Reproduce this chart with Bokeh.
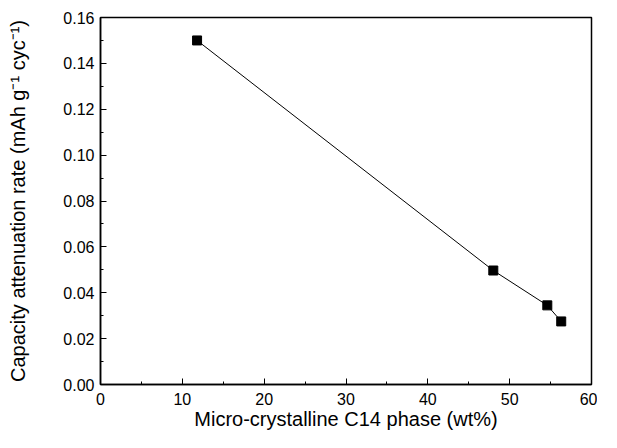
from bokeh.plotting import figure
from bokeh.models import ColumnDataSource, Range1d, FixedTicker, CustomJSTickFormatter
from bokeh.embed import file_html
from bokeh.resources import INLINE

c14_wt = [11.8, 48.0, 54.6, 56.3]
atten_rate = [0.150, 0.0497, 0.0345, 0.0275]
x_ticks = [0, 10, 20, 30, 40, 50, 60]
x_minor = [5, 15, 25, 35, 45, 55]
y_ticks = [0.00, 0.02, 0.04, 0.06, 0.08, 0.10, 0.12, 0.14, 0.16]
y_minor = [0.01, 0.03, 0.05, 0.07, 0.09, 0.11, 0.13, 0.15]

src = ColumnDataSource(dict(x=c14_wt, y=atten_rate))

p = figure(width=597, height=432, output_backend="svg", toolbar_location=None,
           x_range=Range1d(0, 60), y_range=Range1d(0, 0.16),
           min_border_left=100, min_border_right=6, min_border_top=17, min_border_bottom=30)
p.line("x", "y", source=src, line_color="black", line_width=1)
p.scatter("x", "y", source=src, marker="square", size=9, fill_color="black", line_color="black")

p.grid.visible = False
p.outline_line_color = "black"
p.outline_line_width = 1.5
p.background_fill_color = "white"
p.border_fill_color = "white"

font = "Liberation Sans"
for ax in (p.xaxis[0], p.yaxis[0]):
    ax.axis_line_color = "black"
    ax.axis_line_width = 1.5
    ax.major_tick_in = 6
    ax.major_tick_out = 0
    ax.minor_tick_in = 3
    ax.minor_tick_out = 0
    ax.major_tick_line_color = "black"
    ax.minor_tick_line_color = "black"
    ax.major_label_text_font = font
    ax.major_label_text_font_size = "16px"
    ax.major_label_text_color = "black"
    ax.axis_label_text_font = font
    ax.axis_label_text_font_size = "20px"
    ax.axis_label_text_font_style = "normal"
    ax.axis_label_text_color = "black"

p.xaxis.ticker = FixedTicker(ticks=x_ticks, minor_ticks=x_minor)
p.yaxis.ticker = FixedTicker(ticks=y_ticks, minor_ticks=y_minor)
p.yaxis.formatter = CustomJSTickFormatter(code="return tick.toFixed(2);")
p.xaxis.axis_label = "Micro-crystalline C14 phase (wt%)"
p.yaxis.axis_label = "Capacity attenuation rate (mAh g\u207b\u00b9 cyc\u207b\u00b9)"
p.xaxis.major_label_standoff = 8
p.yaxis.major_label_standoff = 6
p.xaxis.axis_label_standoff = 0
p.yaxis.axis_label_standoff = 31

open("out.html", "w").write(file_html(p, INLINE))
